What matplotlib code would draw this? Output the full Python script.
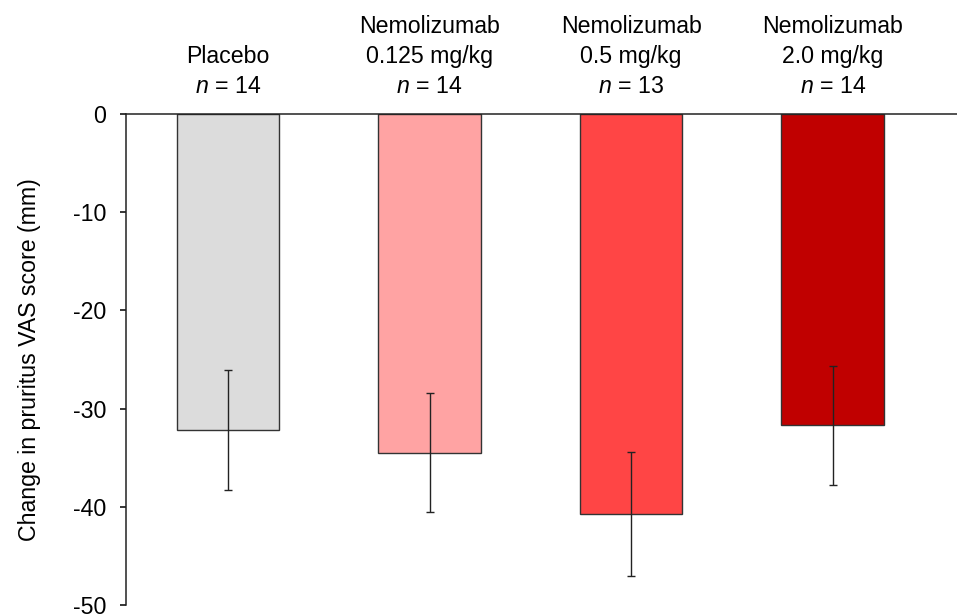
import matplotlib.pyplot as plt
import numpy as np

plt.rcParams['font.family'] = ['Liberation Sans', 'DejaVu Sans']
plt.rcParams['mathtext.fontset'] = 'custom'
plt.rcParams['mathtext.rm'] = 'Liberation Sans'
plt.rcParams['mathtext.it'] = 'Liberation Sans:italic'
plt.rcParams['axes.unicode_minus'] = False

groups = ['Placebo', 'Nemolizumab\n0.125 mg/kg', 'Nemolizumab\n0.5 mg/kg', 'Nemolizumab\n2.0 mg/kg']
n_values = [14, 14, 13, 14]
change = [-32.2, -34.5, -40.7, -31.7]
error = [6.1, 6.05, 6.3, 6.05]
colors = ['#dcdcdc', '#ffa3a3', '#ff4545', '#c00000']

fig = plt.figure(figsize=(9.57, 6.16), dpi=100)
ax = fig.add_axes([0.1317, 0.0175, 0.8683, 0.7975])

# bars + error bars
x = np.arange(len(groups))
ax.bar(x, change, width=0.51, color=colors, edgecolor='#333333', linewidth=1.0, zorder=2)
ax.errorbar(x, change, yerr=error, fmt='none', ecolor='#222222', elinewidth=1.0,
            capsize=3.2, capthick=1.0, zorder=3)

ax.set_xlim(-0.506, 3.617)
ax.set_ylim(-50, 0)
ax.set_yticks([0, -10, -20, -30, -40, -50])
ax.set_xticks([])

# group labels above the top axis line
for xi, name, n in zip(x, groups, n_values):
    ax.annotate(name + '\n$\\it{n}$ = %d' % n, xy=(xi, 1), xycoords=('data', 'axes fraction'),
                xytext=(0, 15), textcoords='offset points', ha='center', va='baseline',
                fontsize=16.7, linespacing=1.38)

for side in ['bottom', 'right']:
    ax.spines[side].set_visible(False)
for side in ['left', 'top']:
    ax.spines[side].set_linewidth(1.1)
    ax.spines[side].set_color('#222222')

ax.tick_params(axis='y', direction='out', length=4.3, width=1.1, pad=10, labelsize=16.7)
ax.set_ylabel('Change in pruritus VAS score (mm)', fontsize=16.7, labelpad=23)

fig.savefig('out.png', dpi=100)
